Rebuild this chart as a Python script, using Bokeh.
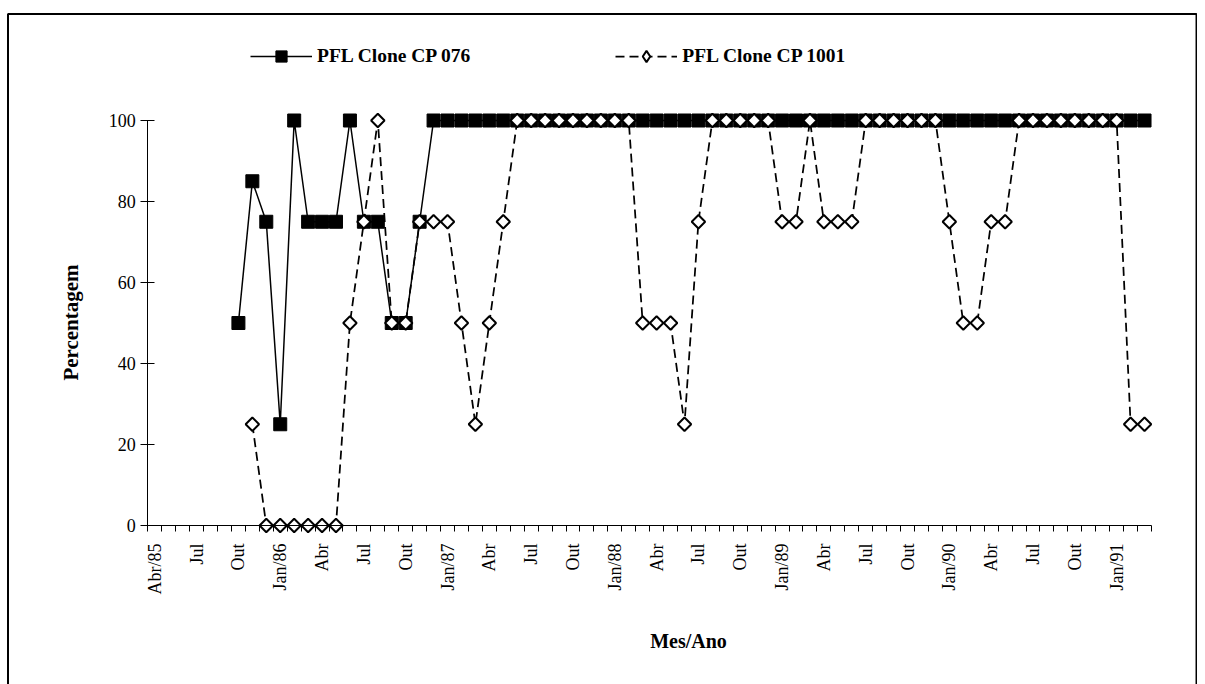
import math
import numpy as np
from bokeh.plotting import figure
from bokeh.models import (LinearAxis, FixedTicker, BoxAnnotation, Label, Legend, LegendItem,
                          Range1d, ColumnDataSource)
from bokeh.embed import file_html
from bokeh.resources import INLINE

# 72 monthly categories, Abr/85 .. Mar/91
months = ["Abr/85", "Mai/85", "Jun/85", "Jul/85", "Ago/85", "Set/85", "Out/85", "Nov/85", "Dez/85",
          "Jan/86", "Fev/86", "Mar/86", "Abr/86", "Mai/86", "Jun/86", "Jul/86", "Ago/86", "Set/86",
          "Out/86", "Nov/86", "Dez/86", "Jan/87", "Fev/87", "Mar/87", "Abr/87", "Mai/87", "Jun/87",
          "Jul/87", "Ago/87", "Set/87", "Out/87", "Nov/87", "Dez/87", "Jan/88", "Fev/88", "Mar/88",
          "Abr/88", "Mai/88", "Jun/88", "Jul/88", "Ago/88", "Set/88", "Out/88", "Nov/88", "Dez/88",
          "Jan/89", "Fev/89", "Mar/89", "Abr/89", "Mai/89", "Jun/89", "Jul/89", "Ago/89", "Set/89",
          "Out/89", "Nov/89", "Dez/89", "Jan/90", "Fev/90", "Mar/90", "Abr/90", "Mai/90", "Jun/90",
          "Jul/90", "Ago/90", "Set/90", "Out/90", "Nov/90", "Dez/90", "Jan/91", "Fev/91", "Mar/91"]

tick_labels = ["Abr/85", "Jul", "Out", "Jan/86", "Abr", "Jul", "Out", "Jan/87", "Abr", "Jul", "Out",
               "Jan/88", "Abr", "Jul", "Out", "Jan/89", "Abr", "Jul", "Out", "Jan/90", "Abr", "Jul",
               "Out", "Jan/91"]

cp076 = [None, None, None, None, None, None,
         50, 85, 75, 25, 100, 75, 75, 75, 100, 75, 75, 50, 50, 75,
         100, 100, 100, 100, 100, 100, 100, 100, 100, 100, 100, 100, 100,
         100, 100, 100, 100, 100, 100, 100, 100, 100, 100, 100, 100, 100,
         100, 100, 100, 100, 100, 100, 100, 100, 100, 100, 100, 100, 100,
         100, 100, 100, 100, 100, 100, 100, 100, 100, 100, 100, 100, 100]

cp1001 = [None, None, None, None, None, None, None,
          25, 0, 0, 0, 0, 0, 0, 50, 75, 100, 50, 50, 75, 75, 75, 50, 25, 50, 75,
          100, 100, 100, 100, 100, 100, 100, 100, 100, 50, 50, 50, 25, 75,
          100, 100, 100, 100, 100, 75, 75, 100, 75, 75, 75,
          100, 100, 100, 100, 100, 100, 75, 50, 50, 75, 75,
          100, 100, 100, 100, 100, 100, 100, 100, 25, 25]

series_names = ["PFL Clone CP 076", "PFL Clone CP 1001"]
y_ticks = [0, 20, 40, 60, 80, 100]

n = len(months)
xpos = [i + 0.5 for i in range(n)]
src = ColumnDataSource(dict(x=xpos, m=months,
                            a=np.array(cp076, dtype=float),
                            b=np.array(cp1001, dtype=float)))

# pixel geometry: frame spans x 0..1197, y 12..684 of the canvas
W, H = 1197, 684
TOP = 12
px_per_x = 13.94
px_per_y = 4.05
AX_L, AX_R, AX_Y0, AX_Y100 = 147.3, 1151.0, 525.0, 120.0
x0 = -(AX_L - 0) / px_per_x
x1 = n + (W - AX_R) / px_per_x
y0 = -(H - AX_Y0) / px_per_y
y1 = 100 + (AX_Y100 - TOP) / px_per_y


def dx(px):
    return x0 + px / px_per_x


def dy(py):
    return y1 - (py - TOP) / px_per_y


p = figure(width=W, height=H, output_backend="svg", toolbar_location=None,
           x_range=Range1d(x0, x1), y_range=Range1d(y0, y1),
           x_axis_location=None, y_axis_location=None,
           min_border_left=0, min_border_right=0, min_border_top=TOP, min_border_bottom=0)
p.grid.visible = False
p.outline_line_color = None
p.background_fill_color = "white"
p.border_fill_color = "white"

FONT = "Liberation Serif"

# y axis
yax = LinearAxis(fixed_location=0, ticker=FixedTicker(ticks=y_ticks), bounds=(0, 100))
yax.major_tick_in = 7
yax.major_tick_out = 7
yax.minor_tick_in = 0
yax.minor_tick_out = 0
yax.major_label_standoff = 5
yax.major_label_text_font = FONT
yax.major_label_text_font_size = "18px"
yax.major_label_text_color = "black"
yax.axis_line_color = "black"
yax.major_tick_line_color = "black"
p.add_layout(yax, "left")

# x axis: labels every 3 months at category centres, boundary ticks as minor ticks
lab_pos = [xpos[i] for i in range(0, n, 3)]
xl = LinearAxis(fixed_location=0,
                ticker=FixedTicker(ticks=lab_pos, minor_ticks=list(range(n + 1))),
                bounds=(0, n),
                major_label_overrides={pos: t for pos, t in zip(lab_pos, tick_labels)})
xl.axis_line_color = "black"
xl.major_tick_line_color = None
xl.major_tick_in = 0
xl.major_tick_out = 0
xl.minor_tick_in = 0
xl.minor_tick_out = 6
xl.minor_tick_line_color = "black"
xl.major_label_orientation = math.pi / 2
xl.major_label_standoff = 12
xl.major_label_text_font = FONT
xl.major_label_text_font_size = "18px"
xl.major_label_text_color = "black"
p.add_layout(xl, "below")

# series
l1 = p.line("x", "a", source=src, line_color="black", line_width=1.5)
s1 = p.scatter("x", "a", source=src, marker="square", size=13,
               fill_color="black", line_color="black", line_width=1)
l2 = p.line("x", "b", source=src, line_color="black", line_width=1.75, line_dash="9 5")
s2 = p.scatter("x", "b", source=src, marker="square", angle=math.pi / 4, size=9.5,
               fill_color="white", line_color="black", line_width=2)
# legend proxy for the diamond symbol (a single NaN point, never drawn in the plot)
s2_leg = p.scatter(x=[float("nan")], y=[float("nan")], marker="diamond", size=14,
                   fill_color="white", line_color="black", line_width=2)

legend = Legend(items=[LegendItem(label=series_names[0], renderers=[l1, s1]),
                       LegendItem(label=series_names[1], renderers=[l2, s2_leg])],
                orientation="horizontal", location=(250, H - TOP - 58),
                border_line_color=None, background_fill_alpha=0,
                padding=0, margin=0, spacing=145, glyph_width=62, glyph_height=28,
                label_standoff=5, label_text_font=FONT, label_text_font_style="bold",
                label_text_font_size="19.5px", label_text_color="black")
p.add_layout(legend)

# axis titles
p.add_layout(Label(x=dx(70), y=dy(322), text="Percentagem",
                   angle=math.pi / 2, text_align="center", text_baseline="middle",
                   text_font=FONT, text_font_style="bold", text_font_size="21px",
                   text_color="black"))
p.add_layout(Label(x=dx(688), y=dy(640), text="Mes/Ano",
                   text_align="center", text_baseline="middle",
                   text_font=FONT, text_font_style="bold", text_font_size="20px",
                   text_color="black"))

# chart border (open at the bottom, below the visible page)
p.add_layout(BoxAnnotation(left=dx(7.5), right=dx(1196), top=dy(13.5), bottom=dy(H + 30),
                           fill_alpha=0, line_color="black", line_width=2, line_alpha=1,
                           level="overlay"))

open("out.html", "w").write(file_html(p, INLINE))
